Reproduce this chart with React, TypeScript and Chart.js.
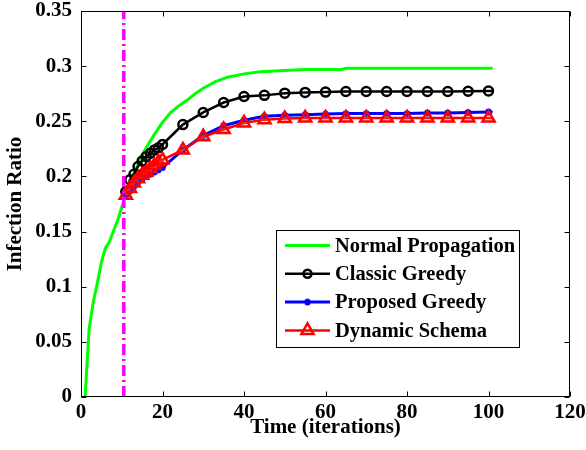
import React, { useEffect, useRef } from 'react';
import { Chart, registerables } from 'chart.js';

Chart.register(...registerables);

// ---------- data ----------
const seriesLabels = ['Normal Propagation', 'Classic Greedy', 'Proposed Greedy', 'Dynamic Schema'];

const normalX = [1, 2, 3, 4, 5, 6, 7, 8, 9, 10, 11, 12, 13, 14, 15, 16, 18, 20, 22, 24, 26, 28, 30, 33, 36, 40, 44, 50, 55, 64, 65, 101];
const normalY = [0, 0.062, 0.086, 0.103, 0.122, 0.135, 0.141, 0.151, 0.16, 0.172, 0.183, 0.194, 0.203, 0.211, 0.219, 0.226, 0.238, 0.249, 0.258, 0.264, 0.269, 0.275, 0.28, 0.286, 0.29, 0.293, 0.295, 0.296, 0.297, 0.297, 0.298, 0.298];

const strategyX = [11, 12, 13, 14, 15, 16, 17, 18, 19, 20, 25, 30, 35, 40, 45, 50, 55, 60, 65, 70, 75, 80, 85, 90, 95, 100, 101];
const classicY = [0.186, 0.197, 0.202, 0.209, 0.214, 0.218, 0.221, 0.224, 0.226, 0.229, 0.247, 0.258, 0.267, 0.2725, 0.2735, 0.2755, 0.2762, 0.2765, 0.277, 0.277, 0.277, 0.277, 0.277, 0.277, 0.2772, 0.2775, 0.2775];
const proposedY = [0.183, 0.187, 0.191, 0.195, 0.198, 0.2, 0.202, 0.204, 0.206, 0.208, 0.224, 0.237, 0.246, 0.251, 0.2545, 0.2555, 0.256, 0.2565, 0.257, 0.257, 0.257, 0.257, 0.2575, 0.2575, 0.258, 0.2585, 0.2585];
const dynamicY = [0.183, 0.189, 0.194, 0.198, 0.201, 0.204, 0.207, 0.21, 0.213, 0.215, 0.224, 0.236, 0.2425, 0.2485, 0.2515, 0.2525, 0.253, 0.253, 0.253, 0.253, 0.253, 0.253, 0.253, 0.253, 0.253, 0.253, 0.253];
const lastMarkerX = 100;

const switchX = [10.5, 10.5];
const switchY = [0, 0.35];

const xTicks = [0, 20, 40, 60, 80, 100, 120];
const yTicks = [0, 0.05, 0.1, 0.15, 0.2, 0.25, 0.3, 0.35];

// ---------- helpers ----------
const FONT_FAMILY = "'Liberation Serif', 'Times New Roman', Times, serif";

function pts(xs: number[], ys: number[]) {
  return xs.map((x, i) => ({ x, y: ys[i] }));
}

function drawMarker(ctx: CanvasRenderingContext2D, style: string, x: number, y: number, r: number) {
  ctx.beginPath();
  if (style === 'circle') {
    ctx.arc(x, y, r, 0, Math.PI * 2);
  } else if (style === 'triangle') {
    for (let k = 0; k < 3; k++) {
      const a = (k * 2 * Math.PI) / 3;
      const px = x + Math.sin(a) * r;
      const py = y - Math.cos(a) * r;
      if (k === 0) ctx.moveTo(px, py);
      else ctx.lineTo(px, py);
    }
    ctx.closePath();
  } else if (style === 'star') {
    for (let k = 0; k < 4; k++) {
      const a = (k * Math.PI) / 4;
      ctx.moveTo(x - Math.cos(a) * r, y - Math.sin(a) * r);
      ctx.lineTo(x + Math.cos(a) * r, y + Math.sin(a) * r);
    }
  }
  ctx.stroke();
}

const framePlugin = {
  id: 'matlabFrame',
  afterDatasetsDraw(chart: any) {
    const { ctx, chartArea } = chart;
    const { left, right, top, bottom } = chartArea;
    const xs = chart.scales.x;
    const ys = chart.scales.y;
    ctx.save();
    ctx.strokeStyle = '#000';
    ctx.lineWidth = 1;
    const L = Math.round(left) + 0.5;
    const R = Math.round(right) - 0.5;
    const T = Math.round(top) + 0.5;
    const B = Math.round(bottom) - 0.5;
    ctx.beginPath();
    const tl = 5;
    xTicks.forEach((v) => {
      const px = Math.round(xs.getPixelForValue(v)) + 0.5;
      ctx.moveTo(px, B);
      ctx.lineTo(px, B - tl);
      ctx.moveTo(px, T);
      ctx.lineTo(px, T + tl);
    });
    yTicks.forEach((v) => {
      const py = Math.round(ys.getPixelForValue(v)) + 0.5;
      ctx.moveTo(L, py);
      ctx.lineTo(L + tl, py);
      ctx.moveTo(R, py);
      ctx.lineTo(R - tl, py);
    });
    ctx.stroke();
    ctx.strokeRect(L, T, R - L, B - T);
    ctx.restore();
  },
  afterDraw(chart: any) {
    const { ctx, chartArea } = chart;
    const lx = Math.round(chartArea.right) - 294;
    const ly = Math.round(chartArea.bottom) - 167;
    const lw = 243;
    const lh = 117;
    ctx.save();
    ctx.fillStyle = '#fff';
    ctx.fillRect(lx, ly, lw, lh);
    ctx.strokeStyle = '#000';
    ctx.lineWidth = 1;
    ctx.strokeRect(lx + 0.5, ly + 0.5, lw, lh);
    ctx.font = `bold 20.5px ${FONT_FAMILY}`;
    ctx.textBaseline = 'middle';
    ctx.textAlign = 'left';
    for (let i = 0; i < 4; i++) {
      const ds = chart.data.datasets[i];
      const y = ly + 15.5 + i * 28.3;
      ctx.strokeStyle = ds.borderColor;
      ctx.lineWidth = ds.borderWidth;
      ctx.beginPath();
      ctx.moveTo(lx + 9, y);
      ctx.lineTo(lx + 54, y);
      ctx.stroke();
      if (ds.legendMarker) {
        ctx.lineWidth = ds.pointBorderWidth;
        drawMarker(ctx, ds.legendMarker, lx + 31.5, y, ds.legendRadius);
      }
      ctx.fillStyle = '#000';
      ctx.fillText(ds.label, lx + 59, y + 1);
    }
    ctx.restore();
  },
};

function markerRadius(r: number) {
  return (c: any) => (c.raw && c.raw.x > lastMarkerX ? 0 : r);
}

export default function App() {
  const ref = useRef<HTMLCanvasElement>(null);

  useEffect(() => {
    if (!ref.current) return;
    const tickFont = { family: FONT_FAMILY, size: 21, weight: 'bold' as const, lineHeight: 1 };
    const chart = new Chart(ref.current, {
      type: 'line',
      data: {
        datasets: [
          {
            label: seriesLabels[0],
            data: pts(normalX, normalY),
            borderColor: '#00ff00',
            borderWidth: 3,
            pointRadius: 0,
            tension: 0,
            order: 4,
          },
          {
            label: seriesLabels[1],
            data: pts(strategyX, classicY),
            borderColor: '#000000',
            borderWidth: 2.5,
            pointStyle: 'circle',
            pointRadius: markerRadius(4.5),
            pointBorderWidth: 2.5,
            pointBorderColor: '#000000',
            pointBackgroundColor: 'rgba(0,0,0,0)',
            tension: 0,
            order: 3,
            legendMarker: 'circle',
            legendRadius: 4,
          } as any,
          {
            label: seriesLabels[2],
            data: pts(strategyX, proposedY),
            borderColor: '#0000ff',
            borderWidth: 3,
            pointStyle: 'star',
            pointRadius: markerRadius(3.5),
            pointBorderWidth: 2,
            pointBorderColor: '#0000ff',
            pointBackgroundColor: '#0000ff',
            tension: 0,
            order: 2,
            legendMarker: 'star',
            legendRadius: 3.5,
          } as any,
          {
            label: seriesLabels[3],
            data: pts(strategyX, dynamicY),
            borderColor: '#ff0000',
            borderWidth: 2.5,
            pointStyle: 'triangle',
            pointRadius: markerRadius(7),
            pointBorderWidth: 2.5,
            pointBorderColor: '#ff0000',
            pointBackgroundColor: 'rgba(255,120,120,0.25)',
            tension: 0,
            order: 1,
            legendMarker: 'triangle',
            legendRadius: 7,
          } as any,
          {
            label: 'switch',
            data: pts(switchX, switchY),
            borderColor: '#ff00ff',
            borderWidth: 3.5,
            borderDash: [11, 4, 2, 4],
            pointRadius: 0,
            tension: 0,
            order: 0,
          },
        ],
      },
      options: {
        animation: false,
        responsive: false,
        devicePixelRatio: 1,
        events: [],
        layout: { padding: { left: 0, top: 11, right: 16, bottom: 0 } },
        plugins: {
          legend: { display: false },
          tooltip: { enabled: false },
        },
        scales: {
          x: {
            type: 'linear',
            min: 0,
            max: 120,
            afterBuildTicks: (s: any) => {
              s.ticks = xTicks.map((v) => ({ value: v }));
            },
            ticks: {
              font: tickFont,
              color: '#000',
              padding: 5,
              maxRotation: 0,
              autoSkip: false,
              callback: (v: any) => String(v),
            },
            grid: { display: false, drawTicks: false },
            border: { display: false },
            title: {
              display: true,
              text: 'Time (iterations)',
              font: tickFont,
              color: '#000',
              padding: { top: 0, bottom: 11.5 },
            },
            afterFit: (s: any) => {
              s.height = 53;
              s.paddingLeft = 0;
              s.paddingRight = 0;
            },
          },
          y: {
            type: 'linear',
            min: 0,
            max: 0.35,
            afterBuildTicks: (s: any) => {
              s.ticks = yTicks.map((v) => ({ value: v }));
            },
            ticks: {
              font: tickFont,
              color: '#000',
              padding: 9,
              autoSkip: false,
              callback: (v: any) => String(Number(Number(v).toFixed(2))),
            },
            grid: { display: false, drawTicks: false },
            border: { display: false },
            title: {
              display: true,
              text: 'Infection Ratio',
              font: tickFont,
              color: '#000',
              padding: { top: 5.5, bottom: 0 },
            },
            afterFit: (s: any) => {
              s.width = 81;
              s.paddingTop = 0;
              s.paddingBottom = 0;
            },
          },
        },
      },
      plugins: [framePlugin],
    });
    return () => chart.destroy();
  }, []);

  return (
    <div style={{ position: 'absolute', left: 0, top: 0, width: 586, height: 450, background: '#fff' }}>
      <canvas ref={ref} width={586} height={450} style={{ width: 586, height: 450, display: 'block' }} />
    </div>
  );
}
